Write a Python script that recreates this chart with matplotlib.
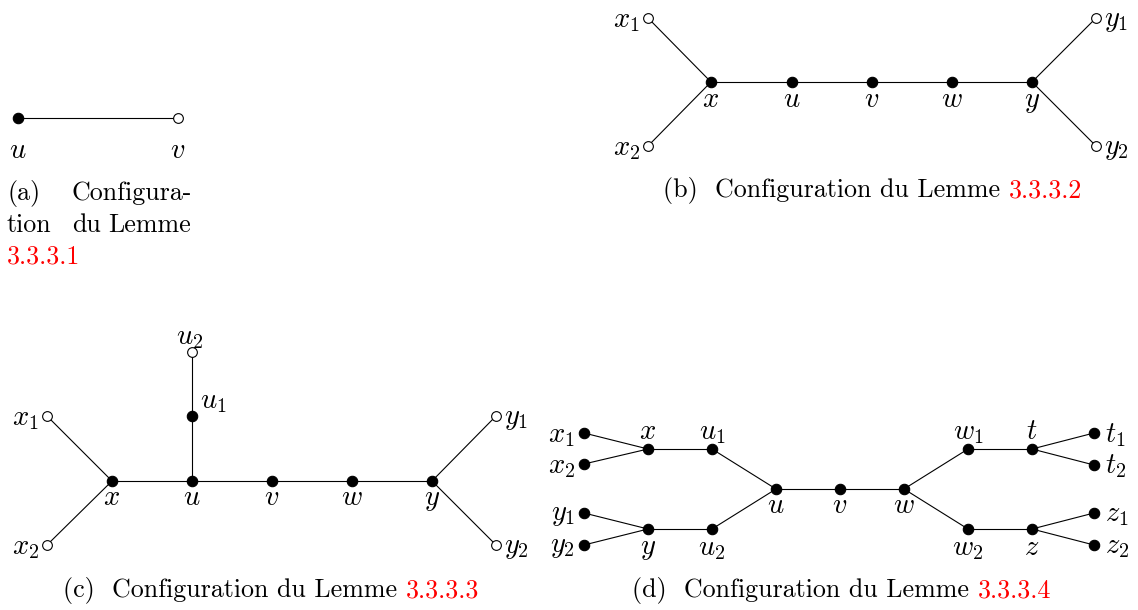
import matplotlib.pyplot as plt

plt.rcParams['mathtext.fontset'] = 'cm'

# ---- panel (a) ----
a_nodes = ['u', 'v']
a_x = [18, 178]
a_y = [118, 118]
a_filled = [True, False]
a_edges = [('u', 'v')]

# ---- panel (b) ----
b_nodes = ['x1', 'x2', 'x', 'u', 'v', 'w', 'y', 'y1', 'y2']
b_x = [648, 648, 711, 792, 872, 952, 1032, 1096, 1096]
b_y = [18, 146, 82, 82, 82, 82, 82, 18, 146]
b_filled = [False, False, True, True, True, True, True, False, False]
b_edges = [('x1', 'x'), ('x2', 'x'), ('x', 'u'), ('u', 'v'), ('v', 'w'),
           ('w', 'y'), ('y', 'y1'), ('y', 'y2')]

# ---- panel (c) ----
c_nodes = ['x1', 'x2', 'x', 'u', 'v', 'w', 'y', 'y1', 'y2', 'u1', 'u2']
c_x = [47, 47, 112, 192, 272, 352, 432, 496, 496, 192, 192]
c_y = [416, 545, 481, 481, 481, 481, 481, 416, 545, 416, 352]
c_filled = [False, False, True, True, True, True, True, False, False, True, False]
c_edges = [('x1', 'x'), ('x2', 'x'), ('x', 'u'), ('u', 'v'), ('v', 'w'),
           ('w', 'y'), ('y', 'y1'), ('y', 'y2'), ('u', 'u1'), ('u1', 'u2')]

# ---- panel (d) ----
d_nodes = ['x1', 'x2', 'y1', 'y2', 'x', 'u1', 'y', 'u2', 'u', 'v', 'w',
           'w1', 't', 'w2', 'z', 't1', 't2', 'z1', 'z2']
d_x = [584, 584, 584, 584, 648, 712, 648, 712, 776, 840, 904,
       968, 1032, 968, 1032, 1094, 1094, 1094, 1094]
d_y = [433, 464, 513, 545, 449, 449, 529, 529, 489, 489, 489,
       449, 449, 529, 529, 433, 465, 513, 545]
d_edges = [('x1', 'x'), ('x2', 'x'), ('x', 'u1'), ('u1', 'u'),
           ('y1', 'y'), ('y2', 'y'), ('y', 'u2'), ('u2', 'u'),
           ('u', 'v'), ('v', 'w'), ('w', 'w1'), ('w1', 't'), ('t', 't1'), ('t', 't2'),
           ('w', 'w2'), ('w2', 'z'), ('z', 'z1'), ('z', 'z2')]
d_filled = [True] * len(d_nodes)

# labels: (text, x, y, ha)
a_labels = [(r'$u$', 18, 150, 'center'), (r'$v$', 178, 150, 'center')]
b_labels = [(r'$x_1$', 640, 20, 'right'), (r'$x_2$', 640, 148, 'right'),
            (r'$y_1$', 1104, 20, 'left'), (r'$y_2$', 1104, 148, 'left'),
            (r'$x$', 711, 99, 'center'), (r'$u$', 792, 99, 'center'),
            (r'$v$', 872, 99, 'center'), (r'$w$', 952, 99, 'center'),
            (r'$y$', 1032, 101, 'center')]
c_labels = [(r'$x_1$', 39, 418, 'right'), (r'$x_2$', 39, 547, 'right'),
            (r'$y_1$', 504, 418, 'left'), (r'$y_2$', 504, 547, 'left'),
            (r'$u_2$', 190, 337, 'center'), (r'$u_1$', 200, 401, 'left'),
            (r'$x$', 112, 497, 'center'), (r'$u$', 192, 497, 'center'),
            (r'$v$', 272, 497, 'center'), (r'$w$', 352, 497, 'center'),
            (r'$y$', 432, 499, 'center')]
d_labels = [(r'$x_1$', 575, 435, 'right'), (r'$x_2$', 575, 466, 'right'),
            (r'$y_1$', 575, 514, 'right'), (r'$y_2$', 575, 546, 'right'),
            (r'$t_1$', 1105, 435, 'left'), (r'$t_2$', 1105, 466, 'left'),
            (r'$z_1$', 1105, 514, 'left'), (r'$z_2$', 1105, 546, 'left'),
            (r'$x$', 648, 431, 'center'), (r'$u_1$', 712, 432, 'center'),
            (r'$w_1$', 968, 432, 'center'), (r'$t$', 1032, 431, 'center'),
            (r'$u$', 776, 505, 'center'), (r'$v$', 840, 505, 'center'),
            (r'$w$', 904, 505, 'center'),
            (r'$y$', 648, 548, 'center'), (r'$u_2$', 712, 548, 'center'),
            (r'$w_2$', 968, 548, 'center'), (r'$z$', 1032, 547, 'center')]

# captions: (black part, red part, x_start, baseline)
captions = [('(b)  Configuration du Lemme ', '3.3.3.2', 663, 197),
            ('(c)  Configuration du Lemme ', '3.3.3.3', 63, 597),
            ('(d)  Configuration du Lemme ', '3.3.3.4', 632, 597)]

fig = plt.figure(figsize=(11.38, 6.10), dpi=100)
ax = fig.add_axes([0, 0, 1, 1])
ax.set_xlim(0, 1138)
ax.set_ylim(610, 0)
ax.axis('off')


def draw_graph(names, xs, ys, filled, edges, labels):
    pos = {n: (x, y) for n, x, y in zip(names, xs, ys)}
    for e1, e2 in edges:
        ax.plot([pos[e1][0], pos[e2][0]], [pos[e1][1], pos[e2][1]],
                color='black', lw=0.8, zorder=1)
    for x, y, f in zip(xs, ys, filled):
        ax.plot(x, y, 'o', ms=7.5 if f else 7, mfc='black' if f else 'white',
                mec='black', mew=0.8, zorder=2)
    for t, x, y, ha in labels:
        ax.text(x, y, t, fontsize=20.5, ha=ha, va='center')


draw_graph(a_nodes, a_x, a_y, a_filled, a_edges, a_labels)
draw_graph(b_nodes, b_x, b_y, b_filled, b_edges, b_labels)
draw_graph(c_nodes, c_x, c_y, c_filled, c_edges, c_labels)
draw_graph(d_nodes, d_x, d_y, d_filled, d_edges, d_labels)

cap_font = dict(fontfamily='cmr10', fontsize=18.7, va='baseline')
renderer = fig.canvas.get_renderer()
for black, red, x0, yb in captions:
    t = ax.text(x0, yb, black, ha='left', color='black', **cap_font)
    bb = t.get_window_extent(renderer)
    x1 = ax.transData.inverted().transform((bb.x1, bb.y0))[0]
    ax.text(x1, yb, red, ha='left', color='red', **cap_font)

# caption (a), narrow justified
ax.text(7, 200, '(a)', ha='left', **cap_font)
ax.text(192, 200, 'Configura-', ha='right', **cap_font)
ax.text(7, 232, 'tion', ha='left', **cap_font)
ax.text(87, 232, 'du', ha='center', **cap_font)
ax.text(191, 232, 'Lemme', ha='right', **cap_font)
ax.text(7, 263, '3.3.3.1', ha='left', color='red', **cap_font)

fig.savefig('out.png', dpi=100)
